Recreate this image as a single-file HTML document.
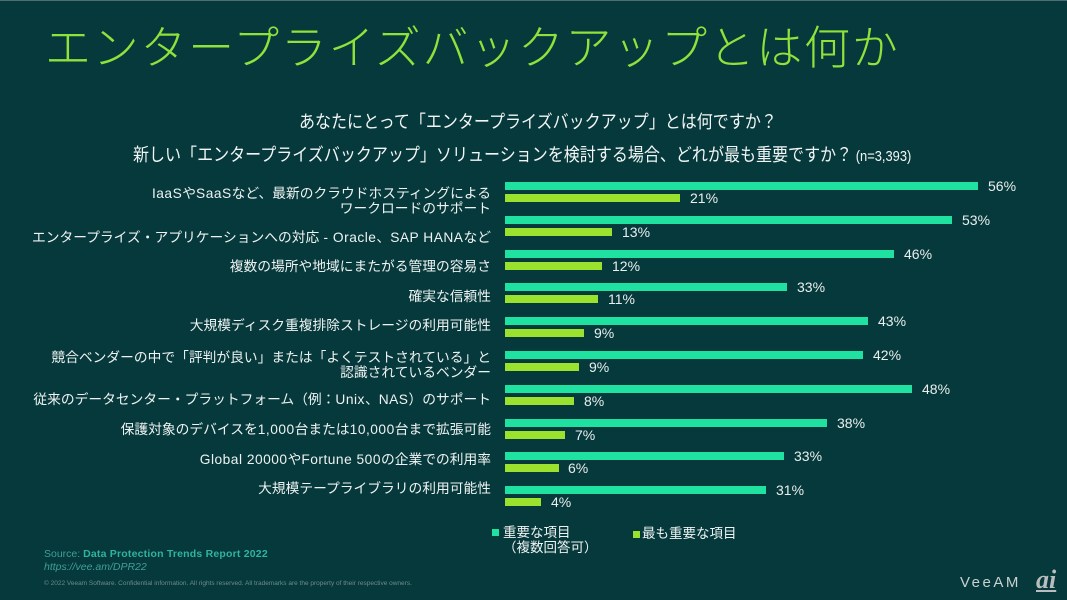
<!DOCTYPE html>
<html><head><meta charset="utf-8">
<style>
html,body{margin:0;padding:0;background:#06393b;}
#s{position:relative;width:1067px;height:600px;overflow:hidden;background:#06393b;border-top:1px solid #4e6e72;box-sizing:border-box;font-family:"Liberation Sans","Noto Sans CJK JP",sans-serif;}
.a{position:absolute;white-space:nowrap;}
.t{background:#1fe2a1;height:8px;left:505px;position:absolute;}
.g{background:#9be22f;height:8px;left:505px;position:absolute;}
.v{position:absolute;font-size:14px;line-height:14px;color:#e9efef;white-space:nowrap;}
.c{position:absolute;right:576px;font-size:13.75px;line-height:14px;color:#eef2f2;text-align:right;white-space:nowrap;}
.l{letter-spacing:0.5px;}
.sub{position:absolute;white-space:nowrap;font-size:18px;line-height:18px;color:#f2f5f5;transform:scaleX(0.89);transform-origin:0 0;}
</style></head><body>
<div id="s">
<div class="a" style="left:45px;top:24px;font-size:46px;line-height:46px;color:#8ee23b;letter-spacing:1.7px;font-weight:300;">エンタープライズバックアップとは何か</div>
<div class="sub" style="left:299px;top:112px;">あなたにとって「エンタープライズバックアップ」とは何ですか？</div>
<div class="sub" style="left:133px;top:145px;">新しい「エンタープライズバックアップ」ソリューションを検討する場合、どれが最も重要ですか？<span style="font-size:14.5px;"> (n=3,393)</span></div>

<div class="c" style="top:184.5px;line-height:15px;"><span class="l">IaaS</span>や<span class="l">SaaS</span>など、最新のクラウドホスティングによる<br>ワークロードのサポート</div>
<div class="c" style="top:229.5px;">エンタープライズ・アプリケーションへの対応<span class="l"> - Oracle</span>、<span class="l">SAP HANA</span>など</div>
<div class="c" style="top:258.5px;">複数の場所や地域にまたがる管理の容易さ</div>
<div class="c" style="top:288.5px;">確実な信頼性</div>
<div class="c" style="top:318px;">大規模ディスク重複排除ストレージの利用可能性</div>
<div class="c" style="top:348.5px;line-height:15px;">競合ベンダーの中で「評判が良い」または「よくテストされている」と<br>認識されているベンダー</div>
<div class="c" style="top:392px;">従来のデータセンター・プラットフォーム（例：<span class="l">Unix</span>、<span class="l">NAS</span>）のサポート</div>
<div class="c" style="top:421.5px;">保護対象のデバイスを<span class="l">1,000</span>台または<span class="l">10,000</span>台まで拡張可能</div>
<div class="c" style="top:452px;"><span class="l">Global 20000</span>や<span class="l">Fortune 500</span>の企業での利用率</div>
<div class="c" style="top:481px;">大規模テープライブラリの利用可能性</div>

<!-- bars -->
<div class="t" style="top:181px;width:473px;"></div><div class="v" style="left:988px;top:178px;">56%</div>
<div class="g" style="top:193px;width:175px;"></div><div class="v" style="left:690px;top:190px;">21%</div>

<div class="t" style="top:214.8px;width:447px;"></div><div class="v" style="left:962px;top:211.8px;">53%</div>
<div class="g" style="top:226.8px;width:107px;"></div><div class="v" style="left:622px;top:223.8px;">13%</div>

<div class="t" style="top:248.6px;width:389px;"></div><div class="v" style="left:904px;top:245.6px;">46%</div>
<div class="g" style="top:260.6px;width:97px;"></div><div class="v" style="left:612px;top:257.6px;">12%</div>

<div class="t" style="top:282.3px;width:282px;"></div><div class="v" style="left:797px;top:279.3px;">33%</div>
<div class="g" style="top:294.3px;width:93px;"></div><div class="v" style="left:608px;top:291.3px;">11%</div>

<div class="t" style="top:316.1px;width:363px;"></div><div class="v" style="left:878px;top:313.1px;">43%</div>
<div class="g" style="top:328.1px;width:79px;"></div><div class="v" style="left:594px;top:325.1px;">9%</div>

<div class="t" style="top:349.9px;width:358px;"></div><div class="v" style="left:873px;top:346.9px;">42%</div>
<div class="g" style="top:361.9px;width:74px;"></div><div class="v" style="left:589px;top:358.9px;">9%</div>

<div class="t" style="top:383.7px;width:407px;"></div><div class="v" style="left:922px;top:380.7px;">48%</div>
<div class="g" style="top:395.7px;width:69px;"></div><div class="v" style="left:584px;top:392.7px;">8%</div>

<div class="t" style="top:417.5px;width:322px;"></div><div class="v" style="left:837px;top:414.5px;">38%</div>
<div class="g" style="top:429.5px;width:60px;"></div><div class="v" style="left:575px;top:426.5px;">7%</div>

<div class="t" style="top:451.2px;width:279px;"></div><div class="v" style="left:794px;top:448.2px;">33%</div>
<div class="g" style="top:463.2px;width:53.5px;"></div><div class="v" style="left:568px;top:460.2px;">6%</div>

<div class="t" style="top:485px;width:261px;"></div><div class="v" style="left:776px;top:482px;">31%</div>
<div class="g" style="top:497px;width:36px;"></div><div class="v" style="left:551px;top:494px;">4%</div>

<!-- legend -->
<div class="a" style="left:492px;top:528px;width:7px;height:7px;background:#1fe2a1;"></div>
<div class="a" style="left:503px;top:524px;font-size:13.5px;line-height:15px;color:#eef2f2;">重要な項目<br>（複数回答可）</div>
<div class="a" style="left:633px;top:530px;width:7px;height:7px;background:#9be22f;"></div>
<div class="a" style="left:642px;top:526px;font-size:13.5px;line-height:14px;color:#eef2f2;">最も重要な項目</div>

<!-- footer -->
<div class="a" style="left:44px;top:547px;font-size:10.5px;line-height:12px;color:#3f9f98;">Source: <b style="color:#2fb3a2;letter-spacing:0.2px;">Data Protection Trends Report 2022</b></div>
<div class="a" style="left:44px;top:560px;font-size:10.5px;line-height:12px;color:#3f9f98;font-style:italic;">https://vee.am/DPR22</div>
<div class="a" style="left:44px;top:579px;font-size:6.5px;line-height:8px;color:#6c8c8c;">© 2022 Veeam Software. Confidential information. All rights reserved. All trademarks are the property of their respective owners.</div>
<div class="a" style="left:960px;top:574px;font-size:15px;line-height:16px;color:#c9d1d1;letter-spacing:2.5px;">VeeAM</div>
<div class="a" style="left:1036px;top:566px;font-size:26px;line-height:26px;color:#b9bdbd;font-family:'Liberation Serif',serif;font-style:italic;font-weight:bold;text-decoration:underline;">ai</div>
</div>
</body></html>
